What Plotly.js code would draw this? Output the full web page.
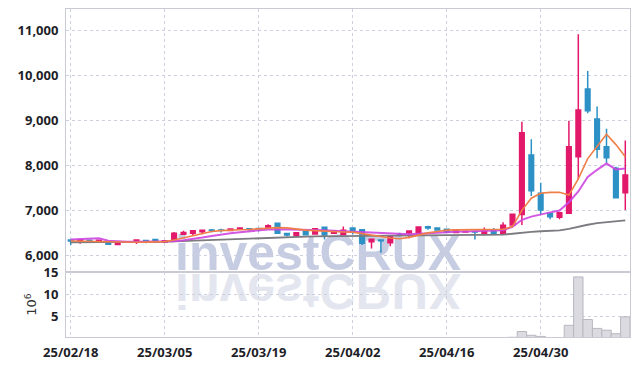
<!DOCTYPE html>
<html>
<head>
<meta charset="utf-8">
<script src="https://cdn.plot.ly/plotly-3.0.1.min.js"></script>
<style>html,body{margin:0;padding:0;background:#fff;}#chart{width:639px;height:366px;}</style>
</head>
<body>
<div id="chart"></div>
<script>
const dates = ['25/02/18','25/02/19','25/02/20','25/02/21','25/02/24','25/02/25','25/02/26','25/02/27','25/02/28','25/03/04','25/03/05','25/03/06','25/03/07','25/03/10','25/03/11','25/03/12','25/03/13','25/03/14','25/03/17','25/03/18','25/03/19','25/03/20','25/03/21','25/03/24','25/03/25','25/03/26','25/03/27','25/03/28','25/03/31','25/04/01','25/04/02','25/04/03','25/04/04','25/04/07','25/04/08','25/04/09','25/04/10','25/04/11','25/04/14','25/04/15','25/04/16','25/04/17','25/04/18','25/04/21','25/04/22','25/04/23','25/04/24','25/04/25','25/04/28','25/04/29','25/04/30','25/05/02','25/05/07','25/05/08','25/05/09','25/05/12','25/05/13','25/05/14','25/05/15','25/05/16'];

const openP  = [6340,6325,6335,6320,6300,6240,6300,6315,6330,6355,6290,6350,6470,6490,6525,6565,6565,6550,6580,6590,6595,6600,6715,6485,6440,6530,6475,6625,6490,6460,6605,6570,6300,6340,6280,6465,6495,6475,6635,6605,6580,6505,6520,6530,6490,6560,6490,6675,6910,8230,7380,6930,6845,6935,8190,9695,9030,8410,7935,7390];
const highP  = [6350,6370,6350,6345,6305,6300,6315,6345,6340,6370,6335,6520,6545,6555,6570,6585,6590,6595,6615,6600,6610,6690,6720,6500,6510,6545,6610,6640,6550,6640,6620,6580,6370,6345,6445,6500,6545,6640,6660,6615,6590,6555,6540,6545,6620,6610,6735,6920,8970,8580,7615,6940,6955,8990,10910,10095,9305,8810,7970,8550];
const lowP   = [6230,6260,6290,6315,6240,6230,6290,6255,6270,6300,6280,6340,6460,6455,6470,6515,6510,6545,6575,6540,6530,6595,6485,6420,6410,6455,6465,6355,6480,6455,6465,6230,6150,6060,6200,6420,6380,6470,6570,6555,6505,6500,6510,6355,6480,6480,6480,6670,6675,7320,6895,6800,6800,6920,7680,9155,8155,8045,7270,7010];
const closeP = [6320,6345,6325,6335,6245,6290,6305,6340,6320,6295,6325,6490,6510,6545,6560,6555,6555,6585,6605,6580,6590,6655,6490,6450,6500,6460,6590,6455,6540,6560,6525,6270,6360,6325,6435,6455,6540,6630,6605,6565,6515,6545,6530,6520,6560,6490,6670,6915,8725,7435,7005,6860,6945,8415,9230,9215,8355,8170,7280,7785];

const ma5  = [6320,6315,6310,6305,6295,6290,6285,6290,6295,6300,6305,6340,6390,6440,6490,6530,6550,6565,6570,6575,6585,6610,6615,6610,6580,6560,6550,6535,6525,6520,6515,6490,6450,6420,6385,6370,6400,6450,6500,6530,6560,6565,6570,6570,6565,6570,6580,6640,7000,7270,7380,7400,7400,7340,7700,8150,8420,8690,8460,8190];
const ma10 = [6355,6360,6370,6378,6324,6305,6302,6300,6300,6300,6302,6315,6335,6360,6395,6430,6465,6490,6515,6535,6560,6575,6580,6578,6575,6570,6565,6555,6545,6535,6525,6510,6500,6490,6478,6467,6470,6480,6495,6510,6520,6525,6530,6535,6540,6545,6560,6635,6790,6860,6915,6955,6995,7180,7420,7740,7900,8040,7910,7930];
const ma60 = [6290,6290,6292,6293,6293,6294,6295,6297,6298,6300,6303,6310,6318,6326,6335,6343,6352,6360,6370,6380,6392,6400,6405,6410,6414,6417,6420,6423,6426,6428,6430,6432,6434,6436,6438,6440,6442,6444,6446,6448,6450,6451,6452,6453,6454,6456,6460,6480,6505,6520,6535,6545,6555,6590,6640,6680,6715,6740,6760,6775];

const volumeM = [0.12,0.1,0.08,0.06,0.1,0.08,0.05,0.06,0.05,0.07,0.06,0.25,0.15,0.1,0.08,0.06,0.06,0.07,0.06,0.05,0.05,0.1,0.2,0.1,0.08,0.08,0.12,0.15,0.08,0.1,0.08,0.2,0.15,0.2,0.15,0.06,0.08,0.12,0.1,0.06,0.06,0.05,0.04,0.06,0.08,0.07,0.15,0.3,1.6,0.75,0.5,0.2,0.2,3.0,13.9,4.3,2.3,1.9,1.1,4.9];

const priceTicks = [6000,7000,8000,9000,10000,11000];
const volTicks = [5,10,15];
const dateTickIdx = [0,10,20,30,40,50];
const dateTicks = dateTickIdx.map(i => dates[i]);
const watermark = 'investCRUX';

const UP = '#e2196b', DOWN = '#2d91c5';
const tickFont = {family: '"Open Sans", sans-serif', stretch:'condensed', size: 13, color: '#1e1e28', weight: 700};
const gridC = '#cdd0df', lineC = '#c9cad3';

const traces = [
  {type:'candlestick', x:dates, open:openP, high:highP, low:lowP, close:closeP, xaxis:'x', yaxis:'y',
   increasing:{line:{color:UP,width:1.5}, fillcolor:UP}, decreasing:{line:{color:DOWN,width:1.5}, fillcolor:DOWN},
   whiskerwidth:0, hoverinfo:'skip'},
  {type:'scatter', mode:'lines', x:dates, y:ma60, line:{color:'#7b7b80', width:1.8}, xaxis:'x', yaxis:'y', hoverinfo:'skip'},
  {type:'scatter', mode:'lines', x:dates, y:ma10, line:{color:'rgba(205,70,225,0.9)', width:2}, xaxis:'x', yaxis:'y', hoverinfo:'skip'},
  {type:'scatter', mode:'lines', x:dates, y:ma5, line:{color:'#ef7f48', width:1.6}, xaxis:'x', yaxis:'y', hoverinfo:'skip'},
  {type:'bar', x:dates, y:volumeM, xaxis:'x', yaxis:'y2', marker:{color:'#dadae0', line:{color:'#b8b8c0', width:1}}, hoverinfo:'skip'}
];

const layout = {
  width:639, height:366,
  margin:{l:66, r:9, t:9, b:29},
  paper_bgcolor:'#fff', plot_bgcolor:'#fff',
  showlegend:false,
  bargap:0,
  xaxis:{type:'category', anchor:'y2', range:[-0.5, 59.5], rangeslider:{visible:false},
         tickvals:dateTicks, ticktext:dateTicks, tickfont:tickFont,
         ticks:'outside', ticklen:3, tickcolor:'rgba(0,0,0,0)',
         showgrid:true, gridcolor:gridC, griddash:'dot', gridwidth:1,
         showline:true, linecolor:lineC, linewidth:1, mirror:'all', zeroline:false},
  yaxis:{domain:[0.198,1], range:[5629,11473], tickvals:priceTicks, tickformat:',d', tickfont:tickFont,
         ticks:'outside', ticklen:4, tickcolor:'rgba(0,0,0,0)',
         showgrid:true, gridcolor:gridC, griddash:'dot', gridwidth:1,
         showline:true, linecolor:lineC, linewidth:1, mirror:true, zeroline:false},
  yaxis2:{domain:[0,0.198], range:[0.36,15], tickvals:volTicks, tickfont:tickFont,
         ticks:'outside', ticklen:4, tickcolor:'rgba(0,0,0,0)',
         title:{text:'10<sup>6</sup>', font:{family:'"DejaVu Sans", sans-serif', size:13, color:'#333'}, standoff:3},
         showgrid:true, gridcolor:gridC, griddash:'dot', gridwidth:1,
         showline:true, linecolor:lineC, linewidth:1, mirror:true, zeroline:false},
  annotations:[
    {text:watermark, xref:'paper', yref:'paper', x:0.447, y:0.165, xanchor:'center', yanchor:'bottom', showarrow:false,
     font:{family:'"Liberation Sans", Arial, sans-serif', size:50, weight:700, color:'#c6cce2'}},
    {text:watermark, xref:'paper', yref:'paper', x:0.447, y:0.165, xanchor:'center', yanchor:'bottom', showarrow:false,
     font:{family:'"Liberation Sans", Arial, sans-serif', size:50, weight:700, color:'#e4e6ef'}}
  ]
};

Plotly.newPlot('chart', traces, layout, {displayModeBar:false, staticPlot:true}).then(gd => {
  const anns = gd.querySelectorAll('g.annotation');
  const svgs = gd.querySelectorAll('svg.main-svg');
  const paper = svgs[0];
  const cl = paper.querySelector('g.cartesianlayer');
  if (anns.length >= 2) {
    anns[1].setAttribute('transform', 'translate(0,544) scale(1,-1)');
    paper.insertBefore(anns[1], cl);
    paper.insertBefore(anns[0], cl);
  }
});
</script>
</body>
</html>
